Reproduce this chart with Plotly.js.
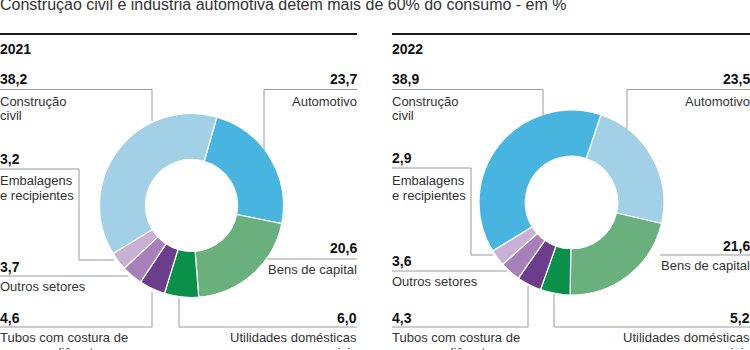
<!DOCTYPE html>
<html>
<head>
<meta charset="utf-8">
<script src="https://cdn.plot.ly/plotly-3.0.1.min.js"></script>
<style>html,body{margin:0;padding:0;background:#fff;}#chart{width:750px;height:350px;}</style>
</head>
<body>
<div id="chart"></div>
<script>
// ---------- DATA ----------
const titleText = "Construção civil e indústria automotiva detêm mais de 60% do consumo - em %";
const years = ["2021", "2022"];
const sectors = ["Automotivo", "Bens de capital", "Utilidades domésticas e comerciais",
  "Tubos com costura de pequeno diâmetro", "Outros setores", "Embalagens e recipientes", "Construção civil"];
const sectorLines = [["Automotivo"], ["Bens de capital"], ["Utilidades domésticas", "e comerciais"],
  ["Tubos com costura de", "pequeno diâmetro"], ["Outros setores"], ["Embalagens", "e recipientes"], ["Construção", "civil"]];
const values2021 = [23.7, 20.6, 6.0, 4.6, 3.7, 3.2, 38.2];
const values2022 = [23.5, 21.6, 5.2, 4.3, 3.6, 2.9, 38.9];
const colors2021 = ["#47b5e0", "#69b07c", "#0a9049", "#6b3d8a", "#a680b8", "#c9b0d5", "#a2d0e6"];
const colors2022 = ["#a2d0e6", "#69b07c", "#0a9049", "#6b3d8a", "#a680b8", "#c9b0d5", "#47b5e0"];

// ---------- LAYOUT CONFIG (pixels) ----------
const W = 750, H = 350;
const px = x => x / W;
const py = y => 1 - y / H;
const FONT = "Liberation Sans, Arial, sans-serif";
const panels = [
  { x0: 0, x1: 357, cx: 191.5, cy: 205.5, r: 92, rot: 16,
    values: values2021, colors: colors2021,
    place: [
      { side: "R", num: 84, txt: [106], path: [[357, 89.5], [264, 89.5], [264, 150]] },
      { side: "R", num: 253, txt: [274], path: [[357, 259], [267, 259]] },
      { side: "R", num: 323, txt: [342, 357], path: [[357, 327], [179, 327], [179, 298]] },
      { side: "L", num: 323, txt: [342, 357], path: [[0, 327], [152, 327], [152, 292]] },
      { side: "L", num: 272, txt: [291], path: [[0, 276], [128, 276]] },
      { side: "L", num: 164, txt: [185, 200], path: [[0, 169], [79, 169], [79, 260], [114, 260]] },
      { side: "L", num: 84, txt: [106, 120], path: [[0, 89.5], [152, 89.5], [152, 121]] }
    ] },
  { x0: 392, x1: 750, cx: 571.5, cy: 202.5, r: 92.5, rot: 18.5,
    values: values2022, colors: colors2022,
    place: [
      { side: "R", num: 84, txt: [106], path: [[750, 89.5], [627, 89.5], [627, 129]] },
      { side: "R", num: 251, txt: [270], path: [[750, 255], [660, 255]] },
      { side: "R", num: 323, txt: [342, 357], path: [[750, 327], [554, 327], [554, 294]] },
      { side: "L", num: 323, txt: [342, 357], path: [[392, 327], [528, 327], [528, 286]] },
      { side: "L", num: 266, txt: [286], path: [[392, 271], [507, 271]] },
      { side: "L", num: 163, txt: [185, 200], path: [[392, 168], [471, 168], [471, 255], [493, 255]] },
      { side: "L", num: 84, txt: [106, 120], path: [[392, 89.5], [543, 89.5], [543, 116]] }
    ] }
];

const fmt = v => v.toFixed(1).replace(".", ",");
// annotation placed so that its text baseline is at pixel y (Liberation metrics)
function ann(text, x, baseline, anchor, size, color) {
  return {
    text: text, xref: "paper", yref: "paper", showarrow: false,
    x: px(x), y: py(baseline - 0.3465 * size), xanchor: anchor, yanchor: "middle",
    borderpad: 0, borderwidth: 0,
    font: { size: size, family: FONT, color: color }
  };
}

const traces = [];
const annotations = [];
const shapes = [];

annotations.push(ann(titleText, 0, 10, "left", 16, "#333333"));

panels.forEach((p, i) => {
  traces.push({
    type: "pie", values: p.values, labels: sectors, sort: false,
    direction: "clockwise", rotation: p.rot, hole: 0.5,
    marker: { colors: p.colors, line: { color: "#ffffff", width: 1.2 } },
    textinfo: "none", hoverinfo: "skip",
    domain: { x: [px(p.cx - p.r), px(p.cx + p.r)], y: [py(p.cy + p.r), py(p.cy - p.r)] }
  });
  shapes.push({ type: "line", xref: "paper", yref: "paper",
    x0: px(p.x0), x1: px(p.x1), y0: py(34), y1: py(34), line: { color: "#1a1a1a", width: 2 } });
  annotations.push(ann("<b>" + years[i] + "</b>", p.x0, 54, "left", 14, "#111111"));
  p.place.forEach((pl, k) => {
    const xa = pl.side === "L" ? p.x0 : p.x1;
    const anc = pl.side === "L" ? "left" : "right";
    annotations.push(ann("<b>" + fmt(p.values[k]) + "</b>", xa, pl.num, anc, 14, "#111111"));
    sectorLines[k].forEach((ln, j) => {
      annotations.push(ann(ln, xa, pl.txt[j], anc, 13, "#333333"));
    });
    const d = pl.path.map((pt, j) => (j ? "L" : "M") + px(pt[0]) + "," + py(pt[1])).join(" ");
    shapes.push({ type: "path", xref: "paper", yref: "paper", path: d,
      line: { color: "#9a9a9a", width: 1 }, fillcolor: "rgba(0,0,0,0)" });
  });
});

const layout = {
  width: W, height: H, margin: { l: 0, r: 0, t: 0, b: 0 },
  paper_bgcolor: "#ffffff", plot_bgcolor: "#ffffff",
  showlegend: false, annotations: annotations, shapes: shapes
};
Plotly.newPlot("chart", traces, layout, { staticPlot: true, displayModeBar: false });
</script>
</body>
</html>
